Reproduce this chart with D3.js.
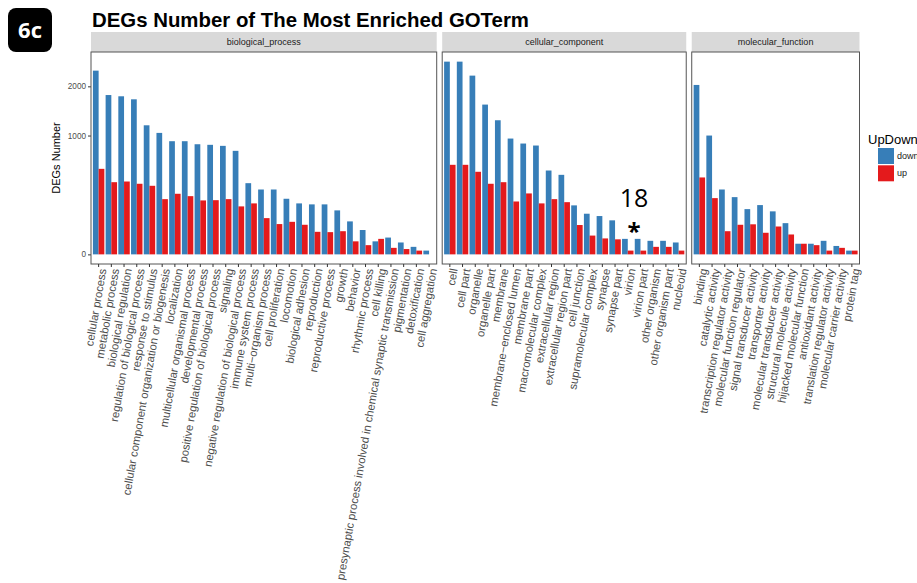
<!DOCTYPE html>
<html>
<head>
<meta charset="utf-8">
<script src="https://cdn.jsdelivr.net/npm/d3@7"></script>
<style>
  body { margin: 0; background: #fff; }
  svg { display: block; font-family: "Liberation Sans", Arial, Helvetica, sans-serif; }
</style>
</head>
<body>
<div id="corpo"></div>
<script>
// dados (escala raiz quadrada no eixo y)
var facets = ["biological_process", "cellular_component", "molecular_function"];

var bpTerms = ["cellular process", "metabolic process", "biological regulation", "regulation of biological process",
  "response to stimulus", "cellular component organization or biogenesis", "localization",
  "multicellular organismal process", "developmental process", "positive regulation of biological process",
  "signaling", "negative regulation of biological process", "immune system process", "multi\u2212organism process",
  "cell proliferation", "locomotion", "biological adhesion", "reproduction", "reproductive process", "growth",
  "behavior", "rhythmic process", "cell killing", "presynaptic process involved in chemical synaptic transmission",
  "pigmentation", "detoxification", "cell aggregation"];
var bpDown = [2391, 1798, 1770, 1703, 1180, 1045, 907, 907, 859, 850, 834, 759, 359, 298, 298, 219, 184, 177, 177, 137, 77, 42, 12, 20, 10, 4, 1];
var bpUp = [518, 369, 376, 353, 333, 216, 260, 240, 206, 208, 216, 163, 184, 93, 65, 75, 62, 36, 35, 38, 12, 6, 17, 3, 2, 1, 0];

var ccTerms = ["cell", "cell part", "organelle", "organelle part", "membrane", "membrane\u2212enclosed lumen",
  "membrane part", "macromolecular complex", "extracellular region", "extracellular region part", "cell junction",
  "supramolecular complex", "synapse", "synapse part", "virion", "virion part", "other organism",
  "other organism part", "nucleoid"];
var ccDown = [2631, 2631, 2263, 1589, 1274, 950, 870, 839, 498, 448, 170, 117, 104, 82, 17, 17, 13, 13, 10];
var ccUp = [568, 568, 483, 353, 369, 198, 263, 184, 216, 193, 61, 25, 18, 16, 1, 1, 4, 4, 1];

var mfTerms = ["binding", "catalytic activity", "transcription regulator activity", "molecular function regulator",
  "signal transducer activity", "transporter activity", "molecular transducer activity",
  "structural molecule activity", "hijacked molecular function", "antioxidant activity",
  "translation regulator activity", "molecular carrier activity", "protein tag"];
var mfDown = [2033, 1000, 298, 232, 145, 172, 131, 69, 8, 8, 13, 5, 1];
var mfUp = [419, 224, 38, 62, 64, 33, 55, 28, 8, 6, 1, 3, 1];

var groups = ["down", "up"];
var groupColors = ["#377EB8", "#E41A1C"];
var yTicks = [0, 1000, 2000];

var width = 917, height = 583;

var svg = d3.select("#corpo").append("svg")
  .attr("width", width)
  .attr("height", height);

/*=== dimensões dos painéis ===*/
var panelTop = 52, panelBottom = 264;
var panelLeft = 91, panelRight = 859.5;
var panelGap = 5.5;
var stripH = 20;

var panels = [
  { name: facets[0], terms: bpTerms, down: bpDown, up: bpUp },
  { name: facets[1], terms: ccTerms, down: ccDown, up: ccUp },
  { name: facets[2], terms: mfTerms, down: mfDown, up: mfUp }
];

var nTotal = d3.sum(panels, function(p) { return p.terms.length + 0.2; });
var step = (panelRight - panelLeft - panelGap * (panels.length - 1)) / nTotal;

var maxV = d3.max(panels, function(p) { return d3.max(p.down.concat(p.up)); });
var ph = panelBottom - panelTop;
var y = d3.scaleSqrt()
  .domain([0, maxV])
  .range([panelBottom - ph * 0.05 / 1.1, panelTop + ph * 0.05 / 1.1]);

var color = d3.scaleOrdinal().domain(groups).range(groupColors);

// título
svg.append("text")
  .attr("x", 92)
  .attr("y", 27)
  .attr("font-size", 20.4)
  .attr("font-weight", "bold")
  .attr("fill", "#000")
  .text("DEGs Number of The Most Enriched GOTerm");

// eixo y
var yAxis = svg.append("g")
  .attr("transform", "translate(" + panelLeft + ",0)")
  .call(d3.axisLeft(y).tickValues(yTicks).tickFormat(d3.format("d")).tickSize(3).tickPadding(2));
yAxis.select(".domain").remove();
yAxis.selectAll("line").attr("stroke", "#333");
yAxis.selectAll("text")
  .attr("font-size", 8.2)
  .attr("fill", "#4d4d4d")
  .attr("font-family", "Liberation Sans, Arial, sans-serif");

svg.append("text")
  .attr("transform", "translate(60," + ((panelTop + panelBottom) / 2) + ") rotate(-90)")
  .attr("text-anchor", "middle")
  .attr("font-size", 11)
  .attr("fill", "#000")
  .text("DEGs Number");

/*=== painéis ===*/
var px = panelLeft;
panels.forEach(function(p) {
  var pw = (p.terms.length + 0.2) * step;
  var x = d3.scaleBand()
    .domain(p.terms)
    .range([0, pw])
    .paddingInner(0)
    .paddingOuter(0.1);
  var xSub = d3.scaleBand()
    .domain(groups)
    .range([x.bandwidth() * 0.05, x.bandwidth() * 0.95]);

  var g = svg.append("g").attr("transform", "translate(" + px + ",0)");

  // faixa (strip)
  g.append("rect")
    .attr("x", 0).attr("y", panelTop - stripH)
    .attr("width", pw).attr("height", stripH)
    .attr("fill", "#d9d9d9");
  g.append("text")
    .attr("x", pw / 2).attr("y", panelTop - stripH / 2)
    .attr("dy", "0.35em")
    .attr("text-anchor", "middle")
    .attr("font-size", 9)
    .attr("fill", "#1a1a1a")
    .text(p.name);

  var rows = p.terms.map(function(t, i) {
    return { term: t, values: [{ g: "down", v: p.down[i] }, { g: "up", v: p.up[i] }] };
  });

  var cell = g.selectAll("g.term")
    .data(rows)
    .enter().append("g")
    .attr("class", "term")
    .attr("transform", function(d) { return "translate(" + x(d.term) + ",0)"; });

  cell.selectAll("rect")
    .data(function(d) { return d.values.filter(function(e) { return e.v > 0; }); })
    .enter().append("rect")
    .attr("x", function(d) { return xSub(d.g); })
    .attr("width", xSub.bandwidth())
    .attr("y", function(d) { return y(d.v); })
    .attr("height", function(d) { return y(0) - y(d.v); })
    .attr("fill", function(d) { return color(d.g); });

  // borda do painel
  g.append("rect")
    .attr("x", 0).attr("y", panelTop)
    .attr("width", pw).attr("height", ph)
    .attr("fill", "none")
    .attr("stroke", "#555")
    .attr("stroke-width", 1);

  // eixo x
  var xAxis = g.append("g")
    .attr("transform", "translate(0," + panelBottom + ")")
    .call(d3.axisBottom(x).tickSize(3).tickSizeOuter(0));
  xAxis.select(".domain").remove();
  xAxis.selectAll("line").attr("stroke", "#333");
  xAxis.selectAll("text")
    .attr("font-size", 11.3)
    .attr("font-family", "Liberation Sans, Arial, sans-serif")
    .attr("fill", "#4d4d4d")
    .attr("text-anchor", "end")
    .attr("y", 0)
    .attr("dy", "0.71em")
    .attr("transform", "translate(0,4) rotate(-80)");

  px += pw + panelGap;
});

// legenda
var leg = svg.append("g").attr("transform", "translate(868,0)");
leg.append("text")
  .attr("x", 0).attr("y", 144)
  .attr("font-size", 13)
  .attr("fill", "#000")
  .text("UpDown");
groups.forEach(function(gr, i) {
  leg.append("rect")
    .attr("x", 10).attr("y", 148 + i * 17.3)
    .attr("width", 16).attr("height", 16)
    .attr("fill", color(gr));
  leg.append("text")
    .attr("x", 29).attr("y", 156 + i * 17.3)
    .attr("dy", "0.35em")
    .attr("font-size", 9)
    .attr("fill", "#1a1a1a")
    .text(gr);
});

// anotação
svg.append("text")
  .attr("x", 634).attr("y", 207)
  .attr("text-anchor", "middle")
  .attr("font-family", "Open Sans, sans-serif")
  .attr("font-size", 25)
  .attr("fill", "#000")
  .text("18");
svg.append("text")
  .attr("x", 634).attr("y", 240)
  .attr("text-anchor", "middle")
  .attr("font-family", "Open Sans, sans-serif")
  .attr("font-weight", "bold")
  .attr("font-size", 24)
  .attr("fill", "#000")
  .text("*");

// selo 6c
svg.append("rect")
  .attr("x", 8).attr("y", 8)
  .attr("width", 44).attr("height", 44)
  .attr("rx", 8)
  .attr("fill", "#000");
svg.append("text")
  .attr("x", 30).attr("y", 30)
  .attr("dy", "0.36em")
  .attr("text-anchor", "middle")
  .attr("font-family", "Open Sans, sans-serif")
  .attr("font-weight", "bold")
  .attr("font-size", 22)
  .attr("fill", "#fff")
  .text("6c");
</script>
</body>
</html>
